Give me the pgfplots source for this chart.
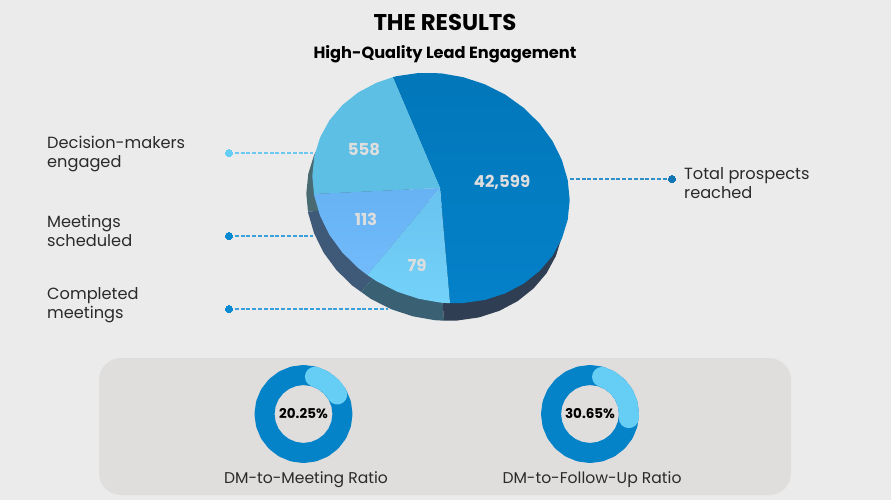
\documentclass[border=0pt]{standalone}
\usepackage{fontspec}
\setmainfont{Poppins}
\usepackage{pgfplots}
\usepackage{pgfplotstable}
\pgfplotsset{compat=1.18}
\definecolor{bgc}{HTML}{EBEBEB}
\definecolor{panel}{HTML}{E0DEDD}
\definecolor{sliceAt}{HTML}{0277BA}
\definecolor{sliceAb}{HTML}{0481C9}
\definecolor{sliceB}{HTML}{5DBFE3}
\definecolor{sliceCt}{HTML}{66B2F3}
\definecolor{sliceCb}{HTML}{72BBFB}
\definecolor{sliceDt}{HTML}{68C2EE}
\definecolor{sliceDb}{HTML}{74D2F9}
\definecolor{sideA}{HTML}{2F3E52}
\definecolor{sideB}{HTML}{4A6A72}
\definecolor{sideC}{HTML}{3F5A78}
\definecolor{sideD}{HTML}{3A6073}
\definecolor{ringc}{HTML}{0583C9}
\definecolor{arcc}{HTML}{66CDF5}
\definecolor{leadA}{HTML}{2E8FC9}
\definecolor{leadB}{HTML}{6CC8EE}
\definecolor{leadC}{HTML}{3AA0DB}
\definecolor{dotA}{HTML}{1275B4}
\definecolor{dotc}{HTML}{0A8AD0}
\definecolor{valc}{HTML}{DEDEDE}
\definecolor{txtc}{HTML}{2A2A2A}
\pgfplotstableread{
x y
39 0
37.67 10.09
33.77 19.5
27.58 27.58
19.5 33.77
10.09 37.67
0 39
-10.09 37.67
-19.5 33.77
-27.58 27.58
-33.77 19.5
-37.67 10.09
-39 0
-37.67 -10.09
-33.77 -19.5
-27.58 -27.58
-19.5 -33.77
-10.09 -37.67
0 -39
10.09 -37.67
19.5 -33.77
27.58 -27.58
33.77 -19.5
37.67 -10.09
}\ringtable
\pgfplotsset{
  area/.style={draw=none, fill=#1, no markers},
  grad/.style 2 args={draw=none, no markers, top color=#1, bottom color=#2},
  lead/.style={#1, line width=1.5pt, dash pattern=on 4pt off 1.8pt, no markers},
  dot/.style={only marks, mark=*, mark size=3.6pt, draw=none, mark options={draw=#1, fill=#1, line width=0pt}},
}
\tikzset{lab/.style={anchor=west, align=left, text=txtc, inner sep=0pt, font=\fontsize{16.2}{19}\selectfont},
  val/.style={text=valc, font=\fontsize{16.5}{18}\selectfont\bfseries}}
\begin{document}
\begin{tikzpicture}
\begin{axis}[x=1pt, y=1pt, xmin=0, xmax=891, ymin=0, ymax=500, y dir=reverse,
  hide axis, clip=true]
% page and panel
\addplot[area=bgc] coordinates {(0,0) (891,0) (891,500) (0,500)} --cycle;
\addplot[area=panel, rounded corners=22pt] coordinates {(445,358) (791,358) (791,495) (99,495) (99,358)} --cycle;
% pie side
\addplot[area=sideB] coordinates {(435,205) (308,211.5) (306.3,193.5) (308.3,173.7) (314.1,155) (323.5,137.7)} --cycle;
\addplot[area=sideC] coordinates {(435,205) (361.3,292) (352.3,285.6) (336.4,270) (323.5,252.4) (314.1,233.4) (308.3,213.5) (308,211.5)} --cycle;
\addplot[area=sideD] coordinates {(435,205) (444,320.7) (435,320.2) (412.7,316.3) (391,309.1) (370.7,298.8) (361.3,292)} --cycle;
\addplot[area=sideA] coordinates {(435,205) (563.7,217.6) (561.7,237.3) (555.9,256) (546.5,273.3) (533.6,288.4) (517.7,301.1) (499.4,310.8) (479,317.4) (457.3,320.5) (444,320.7)} --cycle;
% pie top
\addplot[grad={sliceAt}{sliceAb}] coordinates {(440,188) (392.8,77.2) (397,76.1) (418.7,73) (441,73.3) (463.3,77.2) (485,84.4) (505.4,94.7) (523.7,107.9) (539.6,123.5) (552.5,141.1) (561.9,160.1) (567.7,180) (569.7,200) (567.7,219.8) (561.9,238.5) (552.5,255.8) (539.6,270.9) (523.7,283.6) (505.4,293.3) (485,299.9) (463.3,303) (450,303.2)} --cycle;
\addplot[area=sliceB] coordinates {(440,188) (314,194) (312.3,176) (314.3,156.2) (320.1,137.5) (329.5,120.2) (342.4,105.1) (358.3,92.4) (376.7,82.7) (392.8,77.2)} --cycle;
\addplot[grad={sliceCt}{sliceCb}] coordinates {(440,188) (367.3,275) (358.3,268.1) (342.4,252.5) (329.5,234.9) (320.1,215.9) (314.3,196) (314,194)} --cycle;
\addplot[grad={sliceDt}{sliceDb}] coordinates {(440,188) (450,303.2) (441,302.7) (418.7,298.8) (397,291.6) (376.7,281.3) (367.3,275)} --cycle;
% leader lines
\addplot[lead=leadA] coordinates {(570,179) (672,179)};
\addplot[lead=leadB] coordinates {(229,153) (313,153)};
\addplot[lead=leadC] coordinates {(229,236) (313,236)};
\addplot[lead=leadC] coordinates {(229,309) (388,309)};
\addplot[dot=dotA] coordinates {(672,179)};
\addplot[dot=arcc] coordinates {(229,153)};
\addplot[dot=dotc] coordinates {(229,236) (229,309)};
% ratio rings
\addplot[no markers, ringc, line width=20pt, line join=round] table[x expr=\thisrow{x}+303.5, y expr=\thisrow{y}+414] {\ringtable} --cycle;
\addplot[no markers, ringc, line width=20pt, line join=round] table[x expr=\thisrow{x}+590, y expr=\thisrow{y}+414] {\ringtable} --cycle;
\addplot[no markers, arcc, line width=20pt, line cap=round, line join=round] coordinates {(314.9,376.7) (321.8,379.6) (328,383.7) (333.4,388.9) (337.3,394.5)};
\addplot[no markers, arcc, line width=20pt, line cap=round, line join=round] coordinates {(602.05,376.9) (609.5,380.2) (617.6,386.4) (623.8,394.5) (627.7,403.9) (629,414) (628.8,418.1)};
% text
\node[font=\fontsize{22.8}{25}\selectfont\bfseries, text=black] at (axis cs:445,22) {THE RESULTS};
\node[font=\fontsize{16.2}{18}\selectfont\bfseries, text=black] at (axis cs:445,54) {High-Quality Lead Engagement};
\node[val] at (axis cs:364,149) {558};
\node[val] at (axis cs:502,182.5) {42,599};
\node[val] at (axis cs:366,219) {113};
\node[val] at (axis cs:417,265) {79};
\node[lab] at (axis cs:47,154) {Decision-makers\\engaged};
\node[lab] at (axis cs:47,231) {Meetings\\scheduled};
\node[lab] at (axis cs:47,305) {Completed\\meetings};
\node[lab] at (axis cs:684,183.5) {Total prospects\\reached};
\node[font=\fontsize{13.5}{15}\selectfont\bfseries, text=black] at (axis cs:303.5,414) {20.25\%};
\node[font=\fontsize{13.5}{15}\selectfont\bfseries, text=black] at (axis cs:590,414) {30.65\%};
\node[font=\fontsize{15.6}{18}\selectfont, text=txtc] at (axis cs:306,480) {DM-to-Meeting Ratio};
\node[font=\fontsize{15.6}{18}\selectfont, text=txtc] at (axis cs:592,480) {DM-to-Follow-Up Ratio};
\end{axis}
\end{tikzpicture}
\end{document}
